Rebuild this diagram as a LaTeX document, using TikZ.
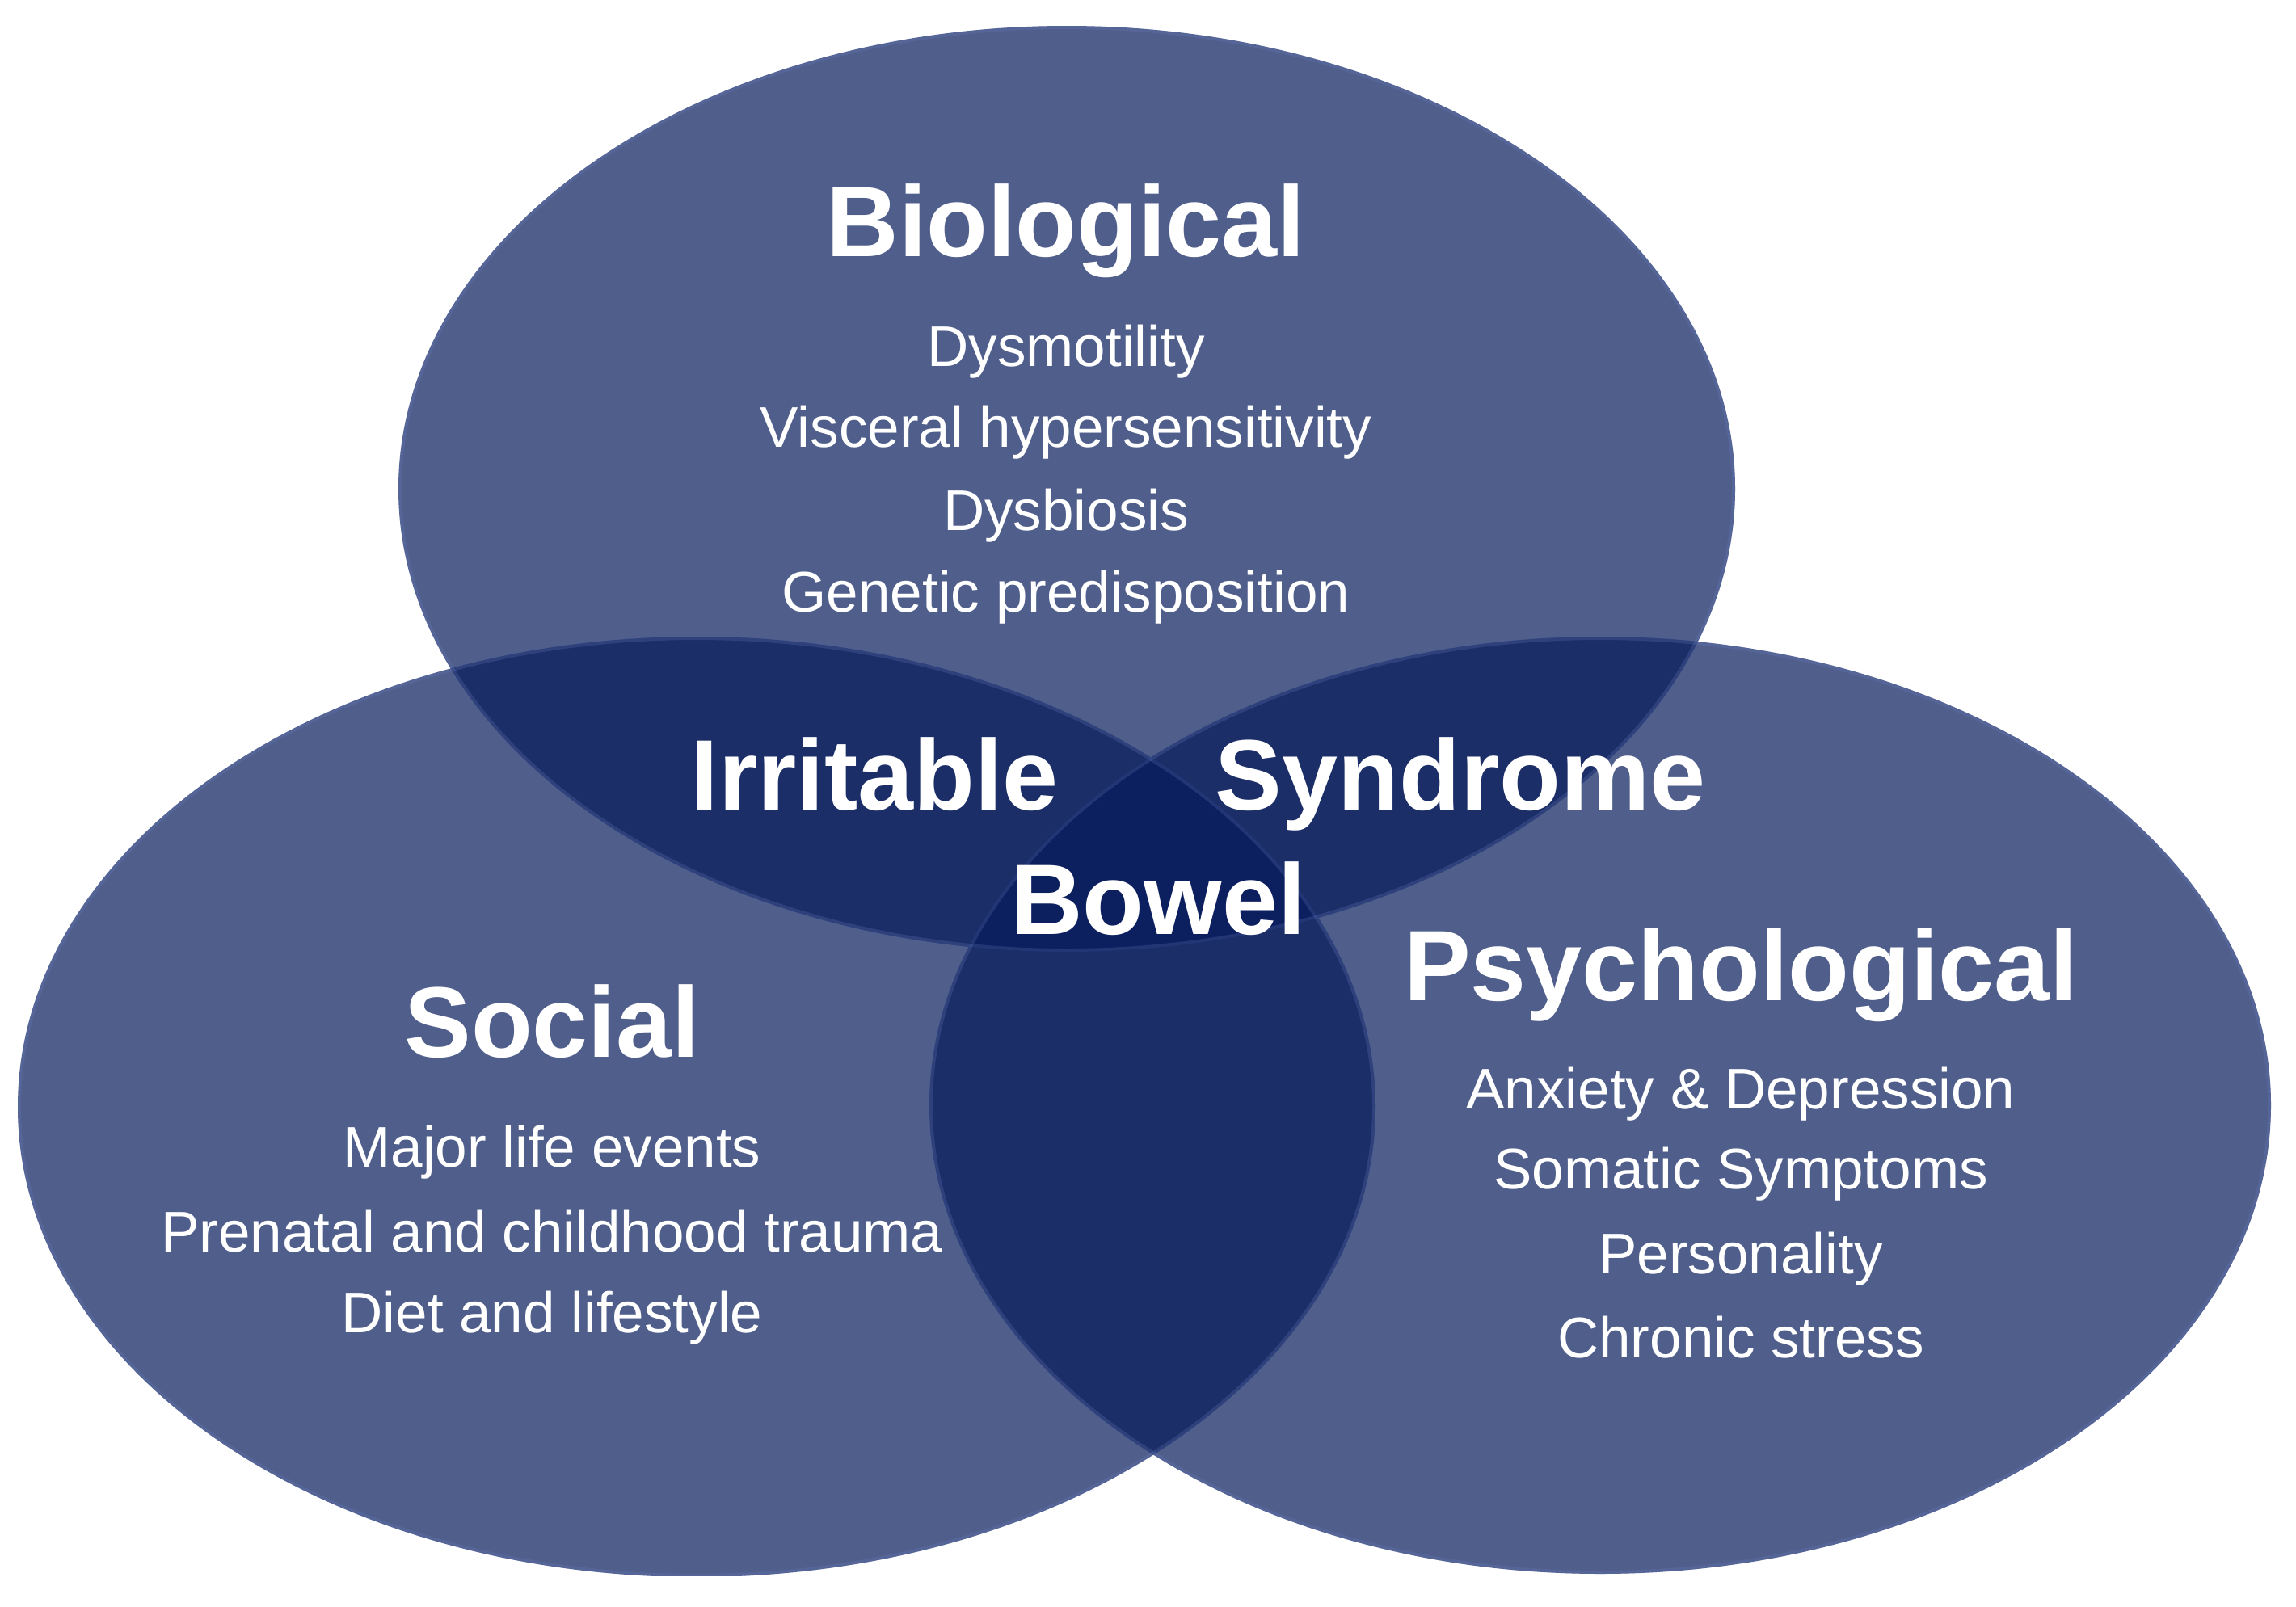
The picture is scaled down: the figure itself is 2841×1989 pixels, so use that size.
\documentclass[tikz,border=0pt]{standalone}
\usepackage{fontspec}
\setmainfont{Liberation Sans}
\definecolor{venn}{RGB}{6,26,90}
\definecolor{rim}{RGB}{100,125,190}
\tikzset{
  circ/.style={fill=venn, fill opacity=0.7},
  rimline/.style={draw=rim, line width=4pt, draw opacity=0.25},
  head/.style={text=white, font=\bfseries\fontsize{124}{124}\selectfont, anchor=base, inner sep=0pt},
  item/.style={text=white, font=\fontsize{71}{71}\selectfont, anchor=base, inner sep=0pt},
}
\begin{document}
\begin{tikzpicture}[x=1pt,y=-1pt]
\useasboundingbox (0,0) rectangle (2841,1989);
\fill[white] (0,0) rectangle (2841,1989);
\begin{scope}
  \clip (0,0) rectangle (2841,1950);
  \fill[circ] (1320,605) ellipse [x radius=827pt, y radius=573pt];
  \fill[circ] (862,1370) ellipse [x radius=840pt, y radius=582pt];
  \fill[circ] (1980,1368) ellipse [x radius=830pt, y radius=580pt];
  \draw[rimline] (1320,605) ellipse [x radius=825pt, y radius=571pt];
  \draw[rimline] (862,1370) ellipse [x radius=838pt, y radius=580pt];
  \draw[rimline] (1980,1368) ellipse [x radius=828pt, y radius=578pt];
\end{scope}
% Biological
\node[head] (bio) at (1319,317) {Biological};
\node[item] (b1) at (1319,453) {Dysmotility};
\node[item] (b2) at (1319,553) {Visceral hypersensitivity};
\node[item] (b3) at (1319,656) {Dysbiosis};
\node[item] (b4) at (1319,757) {Genetic predisposition};
% centre
\node[head] (irr) at (1082,1002) {Irritable};
\node[head] (syn) at (1807,1002) {Syndrome};
\node[head] (bow) at (1433,1156) {Bowel};
% Social
\node[head] (soc) at (683,1308) {Social};
\node[item] (s1) at (683,1444) {Major life events};
\node[item] (s2) at (683,1549) {Prenatal and childhood trauma};
\node[item] (s3) at (683,1649) {Diet and lifestyle};
% Psychological
\node[head] (psy) at (2154,1238) {Psychological};
\node[item] (p1) at (2154,1372) {Anxiety \& Depression};
\node[item] (p2) at (2154,1471) {Somatic Symptoms};
\node[item] (p3) at (2154,1576) {Personality};
\node[item] (p4) at (2154,1680) {Chronic stress};
\end{tikzpicture}
\end{document}
